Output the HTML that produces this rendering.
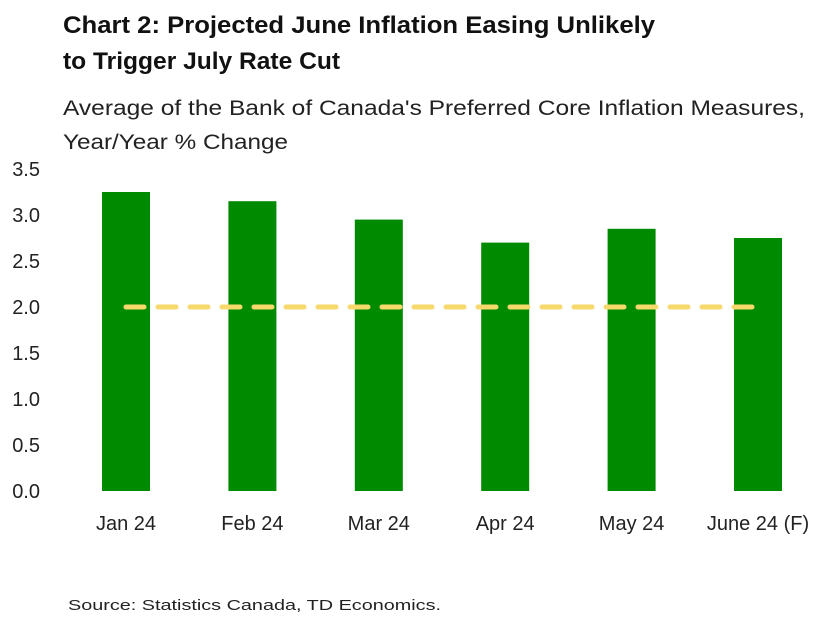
<!DOCTYPE html>
<html><head><meta charset="utf-8"><style>
body{margin:0;background:#fff;width:827px;height:617px;overflow:hidden;font-family:"Liberation Sans",sans-serif}
</style></head><body>
<svg id="chart" width="827" height="617" xmlns="http://www.w3.org/2000/svg">
<text x="63" y="33" font-size="24" font-weight="bold" fill="#111" textLength="592" lengthAdjust="spacingAndGlyphs">Chart 2: Projected June Inflation Easing Unlikely</text>
<text x="63" y="69" font-size="24" font-weight="bold" fill="#111" textLength="277" lengthAdjust="spacingAndGlyphs">to Trigger July Rate Cut</text>
<text x="63" y="115" font-size="21" fill="#222" textLength="742" lengthAdjust="spacingAndGlyphs">Average of the Bank of Canada's Preferred Core Inflation Measures,</text>
<text x="63" y="149" font-size="21" fill="#222" textLength="225" lengthAdjust="spacingAndGlyphs">Year/Year % Change</text>
<g id="yticks"></g><g id="bars"></g><g id="xlabels"></g><g id="target"></g>
<text x="68" y="610" font-size="15" fill="#222" textLength="373" lengthAdjust="spacingAndGlyphs">Source: Statistics Canada, TD Economics.</text>
</svg>
<script>
const categories=["Jan 24","Feb 24","Mar 24","Apr 24","May 24","June 24 (F)"];
const values=[3.25,3.15,2.95,2.7,2.85,2.75];
const targetValues=[2,2,2,2,2,2];
const yTicks=[0,0.5,1,1.5,2,2.5,3,3.5];
const NS="http://www.w3.org/2000/svg";
const y=v=>491-v*92;
const x=i=>126+i*126.4;
function mk(t,a,p){const e=document.createElementNS(NS,t);for(const k in a)e.setAttribute(k,a[k]);document.getElementById(p).appendChild(e);return e;}
yTicks.forEach(v=>{const t=mk('text',{x:40,y:y(v)+7,'font-size':20,fill:'#222','text-anchor':'end'},'yticks');t.textContent=v.toFixed(1);

});
values.forEach((v,i)=>{const r=mk('rect',{x:x(i)-24,y:y(v),width:48,height:y(0)-y(v),fill:'#008a00'},'bars');


const t=mk('text',{x:x(i),y:530,'font-size':20,fill:'#222','text-anchor':'middle'},'xlabels');t.textContent=categories[i];

});
const pts=targetValues.map((v,i)=>x(i)+','+y(v)).join(' ');
const l=mk('polyline',{points:pts,fill:'none',stroke:'#f7d96b','stroke-width':5,'stroke-dasharray':'18 14','stroke-linecap':'round'},'target');


</script>
</body></html>
